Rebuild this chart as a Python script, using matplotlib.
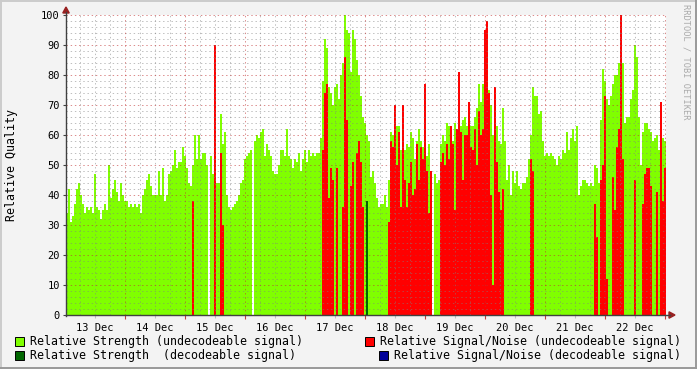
import matplotlib
matplotlib.use('Agg')
import matplotlib.pyplot as plt
import numpy as np
from matplotlib.patches import Polygon, Rectangle
from matplotlib.lines import Line2D

# ---------------- data ----------------
day_labels = ['13 Dec', '14 Dec', '15 Dec', '16 Dec', '17 Dec',
              '18 Dec', '19 Dec', '20 Dec', '21 Dec', '22 Dec']

# Relative Strength (undecodeable signal), one value per 48 minutes
strength_undec = [
    34, 42, 31, 33, 37, 42, 44, 40, 37, 34,
    36, 35, 36, 34, 47, 36, 35, 32, 35, 37,
    35, 50, 39, 42, 45, 41, 38, 44, 40, 38,
    38, 36, 37, 36, 37, 36, 37, 34, 40, 42,
    45, 47, 43, 40, 40, 40, 48, 40, 49, 38,
    40, 47, 48, 50, 55, 49, 51, 51, 56, 53,
    49, 44, 43, 50, 60, 52, 60, 52, 54, 54,
    50, 0, 53, 47, 54, 44, 44, 67, 57, 61,
    40, 36, 35, 36, 37, 38, 40, 44, 45, 52,
    53, 54, 55, 0, 58, 60, 59, 61, 62, 53,
    57, 55, 53, 48, 47, 47, 50, 55, 55, 53,
    62, 53, 52, 49, 52, 51, 54, 48, 52, 55,
    51, 55, 53, 54, 53, 54, 54, 59, 78, 92,
    89, 76, 74, 70, 76, 77, 72, 80, 84, 100,
    95, 94, 81, 95, 92, 85, 80, 73, 66, 64,
    60, 58, 46, 48, 44, 39, 36, 37, 37, 40,
    36, 45, 61, 60, 47, 63, 63, 55, 55, 55,
    57, 56, 61, 59, 52, 58, 62, 58, 56, 56,
    53, 57, 45, 0, 47, 44, 45, 57, 60, 58,
    64, 63, 63, 58, 64, 60, 81, 63, 65, 66,
    63, 71, 63, 63, 66, 69, 77, 71, 77, 83,
    80, 75, 70, 60, 60, 63, 58, 57, 69, 58,
    45, 50, 40, 48, 44, 48, 43, 42, 44, 44,
    46, 52, 60, 76, 73, 73, 67, 68, 58, 53,
    54, 53, 54, 53, 52, 50, 53, 52, 55, 54,
    61, 55, 59, 62, 58, 63, 40, 43, 45, 45,
    44, 43, 44, 43, 50, 49, 44, 65, 82, 78,
    72, 70, 73, 77, 80, 80, 84, 80, 84, 64,
    66, 66, 72, 75, 90, 86, 66, 50, 61, 64,
    64, 62, 61, 58, 59, 60, 55, 58, 59, 58,
]

# Relative Signal/Noise (undecodeable signal)
snr_undec = [
    0, 0, 0, 0, 0, 0, 0, 0, 0, 0,
    0, 0, 0, 0, 0, 0, 0, 0, 0, 0,
    0, 0, 0, 0, 0, 0, 0, 0, 0, 0,
    0, 0, 0, 0, 0, 0, 0, 0, 0, 0,
    0, 0, 0, 0, 0, 0, 0, 0, 0, 0,
    0, 0, 0, 0, 0, 0, 0, 0, 0, 0,
    0, 0, 0, 38, 0, 0, 0, 0, 0, 0,
    0, 0, 0, 0, 90, 0, 0, 54, 30, 0,
    0, 0, 0, 0, 0, 0, 0, 0, 0, 0,
    0, 0, 0, 0, 0, 0, 0, 0, 0, 0,
    0, 0, 0, 0, 0, 0, 0, 0, 0, 0,
    0, 0, 0, 0, 0, 0, 0, 0, 0, 0,
    0, 0, 0, 0, 0, 0, 0, 0, 55, 74,
    77, 39, 49, 45, 0, 49, 0, 0, 36, 86,
    65, 0, 43, 51, 0, 54, 58, 51, 36, 0,
    0, 0, 0, 0, 0, 0, 0, 0, 0, 0,
    0, 31, 58, 56, 70, 50, 61, 36, 70, 45,
    36, 44, 51, 40, 42, 57, 45, 56, 52, 77,
    48, 34, 48, 0, 0, 0, 0, 51, 54, 50,
    57, 52, 63, 57, 35, 62, 81, 61, 45, 60,
    60, 71, 56, 55, 62, 50, 68, 60, 62, 95,
    98, 74, 40, 10, 76, 51, 41, 35, 42, 0,
    0, 0, 0, 0, 0, 0, 0, 0, 0, 0,
    0, 0, 52, 48, 0, 0, 0, 0, 0, 0,
    0, 0, 0, 0, 0, 0, 0, 0, 0, 0,
    0, 0, 0, 0, 0, 0, 0, 0, 0, 0,
    0, 0, 0, 0, 37, 26, 0, 45, 50, 73,
    12, 0, 0, 46, 35, 56, 62, 100, 52, 0,
    0, 0, 0, 0, 45, 0, 0, 0, 37, 47,
    49, 49, 43, 0, 0, 41, 0, 71, 38, 49,
]

# Relative Strength (decodeable signal)
strength_dec = [0] * 150 + [38] + [0] * 149
# Relative Signal/Noise (decodeable signal)
snr_dec = [0] * 300

# ---------------- figure ----------------
W, H = 697, 369
fig = plt.figure(figsize=(W / 100, H / 100), dpi=100, facecolor='#f3f3f3')


def fx(px):
    return px / W


def fy(py):
    return 1 - py / H


ax = fig.add_axes([fx(66), fy(315), 600 / W, 300 / H])
ax.set_facecolor('white')

n = len(strength_undec)
step = 2 / 60.0
t0 = 1 / 60.0
t = t0 + np.arange(n) * step

GREEN = '#80ff00'
RED = '#ff0000'
DKGREEN = '#006600'
BLUE = '#000099'

kw = dict(width=step, align='edge', linewidth=0, antialiased=False)
ax.bar(t, strength_undec, color=GREEN, zorder=1, **kw)
ax.bar(t, snr_undec, color=RED, zorder=2, **kw)
ax.bar(t, strength_dec, color=DKGREEN, zorder=3, **kw)
ax.bar(t, snr_dec, color=BLUE, zorder=4, **kw)

ax.set_xlim(t0, t0 + n * step)
ax.set_ylim(0, 100)

# grid (dotted, drawn over the data like rrdtool)
minor_kw = dict(color='#808080', alpha=0.5, lw=0.72, ls=(0, (1.4, 2.8)), zorder=5)
major_kw = dict(color='#c03030', alpha=0.55, lw=0.72, ls=(0, (1.4, 2.8)), zorder=6)
for y in range(2, 101, 2):
    if y % 10:
        ax.axhline(y, **minor_kw)
for y in range(10, 101, 10):
    ax.axhline(y, **major_kw)
for q in np.arange(0.25, 10.01, 0.25):
    if abs(q - round(q)) > 1e-6:
        ax.axvline(q, **minor_kw)
for d in range(1, 11):
    ax.axvline(d, **major_kw)

for s in ax.spines.values():
    s.set_visible(False)

mono = 'DejaVu Sans Mono'
ax.set_yticks(range(0, 101, 10))
ax.set_yticklabels([str(v) for v in range(0, 101, 10)], family=mono, fontsize=7.5)
ax.set_xticks(np.arange(10) + 0.5)
ax.set_xticklabels(day_labels, family=mono, fontsize=7.5)
ax.set_xticks(np.arange(1, 11), minor=True)
ax.tick_params(axis='y', length=2, width=0.8, color='#404040', pad=2.5)
ax.tick_params(axis='x', which='major', length=2, width=0.8, color='#c0c0c0', pad=3.5)
ax.tick_params(axis='x', which='minor', length=3, width=0.8, color='#c04040')

# axis lines and arrows
AX = '#404040'
fig.add_artist(Line2D([fx(66), fx(66)], [fy(315.5), fy(12)], color=AX, lw=1.0))
fig.add_artist(Line2D([fx(65.5), fx(670)], [fy(315), fy(315)], color=AX, lw=1.0))
ARROW = '#982020'
fig.add_artist(Polygon([[fx(66), fy(7)], [fx(62.8), fy(13)], [fx(69.2), fy(13)]],
                       closed=True, color=ARROW, transform=fig.transFigure))
fig.add_artist(Polygon([[fx(675), fy(315)], [fx(669), fy(311.8)], [fx(669), fy(318.2)]],
                       closed=True, color=ARROW, transform=fig.transFigure))

# y label
fig.text(fx(12), fy(165), 'Relative Quality', rotation=90, ha='center', va='center',
         family=mono, fontsize=8.4)

# watermark
fig.text(fx(686), fy(4), 'RRDTOOL / TOBI OETIKER', rotation=270, ha='center', va='top',
         family=mono, fontsize=6.2, color='#aaaaaa')

# legend
legend_items = [
    (15, 341, GREEN, 30, 'Relative Strength (undecodeable signal)'),
    (365, 341, RED, 380, 'Relative Signal/Noise (undecodeable signal)'),
    (15, 355, DKGREEN, 30, 'Relative Strength  (decodeable signal)'),
    (379, 355, BLUE, 394, 'Relative Signal/Noise (decodeable signal)'),
]
for bx, by, col, tx, label in legend_items:
    fig.add_artist(Rectangle((fx(bx), fy(by + 4.5)), 9 / W, 9 / H, facecolor=col,
                             edgecolor='black', lw=0.7, transform=fig.transFigure))
    fig.text(fx(tx), fy(by), label, ha='left', va='center', family=mono, fontsize=8.4)

# 3D border
fig.add_artist(Line2D([0, 1], [fy(0.75), fy(0.75)], color='#cbcbcb', lw=1.4))
fig.add_artist(Line2D([fx(0.75), fx(0.75)], [0, 1], color='#cbcbcb', lw=1.4))
fig.add_artist(Line2D([0, 1], [fy(H - 0.75), fy(H - 0.75)], color='#999999', lw=1.4))
fig.add_artist(Line2D([fx(W - 0.75), fx(W - 0.75)], [0, 1], color='#999999', lw=1.4))

fig.savefig('out.png', dpi=100, facecolor=fig.get_facecolor())
